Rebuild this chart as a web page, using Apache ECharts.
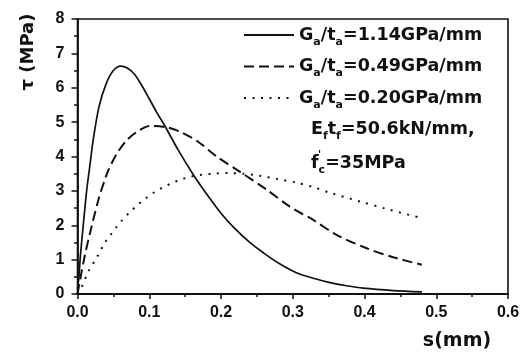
<!DOCTYPE html>
<html><head><meta charset="utf-8">
<script src="https://cdn.jsdelivr.net/npm/echarts@6/dist/echarts.min.js"></script>
<style>html,body{margin:0;padding:0;background:#fff}#c{width:526px;height:353px}</style>
</head><body><div id="c"></div>
<script>
// Series names (underscore marks a subscript letter)
const seriesNames = ['G_a/t_a=1.14GPa/mm', 'G_a/t_a=0.49GPa/mm', 'G_a/t_a=0.20GPa/mm'];
// s (mm) and tau (MPa) for Ga/ta = 1.14
const sHigh   = [0, 0.002, 0.004, 0.008, 0.013, 0.017, 0.022, 0.030, 0.040, 0.050, 0.060, 0.070, 0.080, 0.090, 0.100, 0.110, 0.122, 0.140, 0.163, 0.182, 0.200, 0.217, 0.240, 0.259, 0.280, 0.305, 0.330, 0.352, 0.375, 0.398, 0.440, 0.480];
const tauHigh = [0.15, 0.5, 1.1, 2.0, 3.05, 3.7, 4.5, 5.45, 6.12, 6.5, 6.63, 6.57, 6.38, 6.05, 5.68, 5.3, 4.88, 4.2, 3.42, 2.85, 2.35, 1.95, 1.5, 1.2, 0.9, 0.62, 0.45, 0.33, 0.24, 0.17, 0.1, 0.06];
// Ga/ta = 0.49
const sMid    = [0, 0.0035, 0.010, 0.0174, 0.029, 0.038, 0.043, 0.055, 0.069, 0.083, 0.101, 0.124, 0.143, 0.168, 0.194, 0.226, 0.264, 0.296, 0.329, 0.361, 0.403, 0.440, 0.480];
const tauMid  = [0, 0.4, 1.1, 1.77, 2.73, 3.32, 3.6, 4.09, 4.48, 4.72, 4.89, 4.85, 4.72, 4.43, 4.0, 3.56, 3.03, 2.54, 2.15, 1.72, 1.33, 1.07, 0.85];
// Ga/ta = 0.20
const sLow    = [0, 0.006, 0.015, 0.027, 0.038, 0.046, 0.054, 0.0625, 0.072, 0.0825, 0.095, 0.107, 0.119, 0.131, 0.143, 0.155, 0.170, 0.190, 0.210, 0.230, 0.254, 0.280, 0.305, 0.330, 0.351, 0.394, 0.430, 0.477];
const tauLow  = [0, 0.21, 0.65, 1.07, 1.49, 1.72, 1.94, 2.15, 2.36, 2.57, 2.78, 2.96, 3.1, 3.22, 3.32, 3.4, 3.46, 3.5, 3.52, 3.5, 3.44, 3.34, 3.24, 3.1, 2.95, 2.69, 2.48, 2.22];
// Axis ranges / ticks
const xMin = 0, xMax = 0.6, xStep = 0.1;
const yMin = 0, yMax = 8, yStep = 1;
const xAxisTitle = 's(mm)';
const yAxisTitle = 'τ (MPa)';
const noteLine1 = 'E{s|f}t{s|f}=50.6kN/mm,';
const noteLine2 = 'f{s|c}=35MPa';

const zip = (xs, ys) => xs.map((x, i) => [x, ys[i]]);
const black = '#111';
const tickFont = {color: black, fontFamily: '"Liberation Sans"', fontWeight: 'bold', fontSize: 16};
const nameFont = 'bold 19px "DejaVu Sans"';
const richSub = {
  s: {fontFamily: 'DejaVu Sans', fontWeight: 'bold', fontSize: 11, color: black, padding: [14, 0, 0, 0]}
};

const chart = echarts.init(document.getElementById('c'), null, {renderer: 'canvas'});
chart.setOption({
  animation: false,
  backgroundColor: '#fff',
  grid: {left: 77.5, right: 18, top: 19, bottom: 59, containLabel: false, outerBoundsMode: 'none',
         show: true, borderColor: black, borderWidth: 1.6, backgroundColor: 'transparent'},
  xAxis: {
    type: 'value', min: xMin, max: xMax, interval: xStep,
    axisLine: {show: true, onZero: false, lineStyle: {color: black, width: 1.8}},
    axisTick: {show: true, inside: false, length: 5, lineStyle: {color: black, width: 1.5}},
    minorTick: {show: true, splitNumber: 2, length: 3, lineStyle: {color: black, width: 1.5}},
    splitLine: {show: false}, minorSplitLine: {show: false},
    axisLabel: Object.assign({margin: 11, formatter: v => v.toFixed(1)}, tickFont)
  },
  yAxis: {
    type: 'value', min: yMin, max: yMax, interval: yStep,
    axisLine: {show: true, onZero: false, lineStyle: {color: black, width: 1.8}},
    axisTick: {show: true, inside: false, length: 6, lineStyle: {color: black, width: 1.5}},
    minorTick: {show: true, splitNumber: 2, length: 3.5, lineStyle: {color: black, width: 1.5}},
    splitLine: {show: false}, minorSplitLine: {show: false},
    axisLabel: Object.assign({margin: 13}, tickFont)
  },
  legend: {
    orient: 'vertical', left: 243, top: 26, itemWidth: 50, itemHeight: 14, itemGap: 10,
    padding: 0, selectedMode: false,
    itemStyle: {color: 'rgba(0,0,0,0)', borderWidth: 0, opacity: 0},
    formatter: n => n.replace(/_([a-z])/g, '{s|$1}'),
    textStyle: {fontFamily: 'DejaVu Sans', fontWeight: 'bold', fontSize: 17.5, color: black, rich: richSub}
  },
  series: [
    {name: seriesNames[0], type: 'line', data: zip(sHigh, tauHigh), showSymbol: false, symbol: 'none', smooth: 0.3,
     lineStyle: {color: black, width: 1.7, type: 'solid'}, itemStyle: {color: black}},
    {name: seriesNames[1], type: 'line', data: zip(sMid, tauMid), showSymbol: false, symbol: 'none', smooth: 0.3,
     lineStyle: {color: black, width: 2, type: [10, 5]}, itemStyle: {color: black}},
    {name: seriesNames[2], type: 'line', data: zip(sLow, tauLow), showSymbol: false, symbol: 'none', smooth: 0.3,
     lineStyle: {color: black, width: 2, type: [2, 6.5]}, itemStyle: {color: black}}
  ],
  graphic: [
    {type: 'text', x: 311, y: 129, style: {text: noteLine1, font: 'bold 17.5px "DejaVu Sans"', fill: black,
      verticalAlign: 'middle', rich: richSub}},
    {type: 'text', x: 311, y: 163, style: {text: noteLine2, font: 'bold 17.5px "DejaVu Sans"', fill: black,
      verticalAlign: 'middle', rich: richSub}},
    {type: 'text', x: 318, y: 150, style: {text: "'", font: 'bold 10px "DejaVu Sans"', fill: black}},
    {type: 'text', x: 457, y: 341, style: {text: xAxisTitle, font: nameFont, fill: black, align: 'center', verticalAlign: 'middle'}},
    {type: 'text', x: 28, y: 52, rotation: Math.PI / 2, style: {text: yAxisTitle, font: 'bold 18px "DejaVu Sans"', fill: black, align: 'center', verticalAlign: 'middle'}}
  ]
});
</script></body></html>
